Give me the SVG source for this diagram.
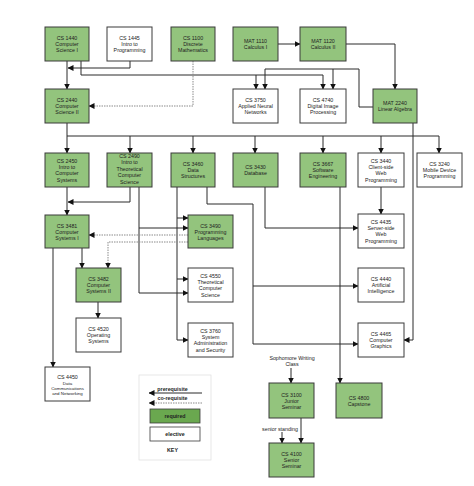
<svg xmlns="http://www.w3.org/2000/svg" width="474" height="486" viewBox="0 0 474 486">
<style>
.n rect{stroke:#3a3a3a;stroke-width:1}
.req rect{fill:#93c47d}
.ele rect{fill:#ffffff}
text{font-family:"Liberation Sans",Arial,sans-serif;font-size:5.3px;fill:#222;text-anchor:middle}
.c path{fill:none;stroke:#2b2b2b;stroke-width:1}
.c path.d{stroke:#8a8a8a;stroke-dasharray:1.5,1}
.sm{font-size:4.4px}
.b{font-weight:bold}
</style>
<defs>
<marker id="a" markerUnits="userSpaceOnUse" markerWidth="6" markerHeight="6" refX="5.5" refY="3" orient="auto"><path d="M0,0 L6,3 L0,6 z" fill="#111"/></marker>
</defs>
<rect width="474" height="486" fill="#fff"/>
<g class="c" id="connectors">
<path d="M67,61 V89" marker-end="url(#a)"/>
<path d="M130,61 V68 H68" marker-end="url(#a)"/>
<path d="M81,61 V75 H323 V89" marker-end="url(#a)"/>
<path d="M256,75 V89" marker-end="url(#a)"/>
<path d="M373,107 H359 V69 H265 V89" marker-end="url(#a)"/>
<path d="M333,69 V89" marker-end="url(#a)"/>
<path d="M278,44 H300" marker-end="url(#a)"/>
<path d="M346,44 H395 V89" marker-end="url(#a)"/>
<path class="d" d="M193,61 V106 H89" marker-end="url(#a)"/>
<path d="M67,123 V153" marker-end="url(#a)"/>
<path d="M67,136 H439 V153" marker-end="url(#a)"/>
<path d="M130,136 V153" marker-end="url(#a)"/>
<path d="M193,136 V153" marker-end="url(#a)"/>
<path d="M255,136 V153" marker-end="url(#a)"/>
<path d="M323,136 V153" marker-end="url(#a)"/>
<path d="M381,136 V153" marker-end="url(#a)"/>
<path d="M413,123 V340 H404" marker-end="url(#a)"/>
<path d="M67,187 V215" marker-end="url(#a)"/>
<path d="M130,187 V202 H68" marker-end="url(#a)"/>
<path d="M139,187 V293 H188" marker-end="url(#a)"/>
<path d="M139,228 H188" marker-end="url(#a)"/>
<path d="M177,187 V340 H188" marker-end="url(#a)"/>
<path d="M177,218 H188" marker-end="url(#a)"/>
<path d="M177,279 H188" marker-end="url(#a)"/>
<path d="M207,187 V204 H253 V344 H358" marker-end="url(#a)"/>
<path d="M253,286 H358" marker-end="url(#a)"/>
<path d="M265,187 V228 H358" marker-end="url(#a)"/>
<path d="M340,187 V383" marker-end="url(#a)"/>
<path d="M381,187 V214" marker-end="url(#a)"/>
<path class="d" d="M188,235 H89" marker-end="url(#a)"/>
<path class="d" d="M188,242 H108 V268" marker-end="url(#a)"/>
<path d="M82,248 V268" marker-end="url(#a)"/>
<path d="M53,248 V367" marker-end="url(#a)"/>
<path d="M98,302 V318" marker-end="url(#a)"/>
<path d="M291,368 V383" marker-end="url(#a)"/>
<path d="M282,432 V443" marker-end="url(#a)"/>
<path d="M301,418 V443" marker-end="url(#a)"/>
</g>
<g id="cs1440" class="n req"><rect x="45" y="27" width="44" height="34"/><text x="67" y="40">CS 1440</text><text x="67" y="46">Computer</text><text x="67" y="52">Science I</text></g>
<g id="cs1445" class="n ele"><rect x="107" y="27" width="45" height="34"/><text x="129.5" y="40">CS 1445</text><text x="129.5" y="46">Intro to</text><text x="129.5" y="52">Programming</text></g>
<g id="cs1100" class="n req"><rect x="171" y="27" width="44" height="34"/><text x="193" y="40">CS 1100</text><text x="193" y="46">Discrete</text><text x="193" y="52">Mathematics</text></g>
<g id="mat1110" class="n req"><rect x="233" y="27" width="45" height="34"/><text x="255.5" y="43">MAT 1110</text><text x="255.5" y="49">Calculus I</text></g>
<g id="mat1120" class="n req"><rect x="300" y="27" width="46" height="34"/><text x="323" y="43">MAT 1120</text><text x="323" y="49">Calculus II</text></g>
<g id="cs2440" class="n req"><rect x="45" y="89" width="44" height="34"/><text x="67" y="102">CS 2440</text><text x="67" y="108">Computer</text><text x="67" y="114">Science II</text></g>
<g id="cs3750" class="n ele"><rect x="233" y="89" width="45" height="34"/><text x="255.5" y="102">CS 3750</text><text x="255.5" y="108">Applied Neural</text><text x="255.5" y="114">Networks</text></g>
<g id="cs4740" class="n ele"><rect x="300" y="89" width="46" height="34"/><text x="323" y="102">CS 4740</text><text x="323" y="108">Digital Image</text><text x="323" y="114">Processing</text></g>
<g id="mat2240" class="n req"><rect x="373" y="89" width="44" height="34"/><text x="395" y="105">MAT 2240</text><text x="395" y="111">Linear Algebra</text></g>
<g id="cs2450" class="n req"><rect x="45" y="153" width="44" height="34"/><text x="67" y="162.7">CS 2450</text><text x="67" y="169">Intro to</text><text x="67" y="175.3">Computer</text><text x="67" y="181.6">Systems</text></g>
<g id="cs2490" class="n req"><rect x="107" y="153" width="45" height="34"/><text x="129.5" y="158">CS 2490</text><text x="129.5" y="164.4">Intro to</text><text x="129.5" y="170.8">Theoretical</text><text x="129.5" y="177.2">Computer</text><text x="129.5" y="183.6">Science</text></g>
<g id="cs3460" class="n req"><rect x="171" y="153" width="44" height="34"/><text x="193" y="166">CS 3460</text><text x="193" y="172">Data</text><text x="193" y="178">Structures</text></g>
<g id="cs3430" class="n req"><rect x="233" y="153" width="45" height="34"/><text x="255.5" y="169">CS 3430</text><text x="255.5" y="175">Database</text></g>
<g id="cs3667" class="n req"><rect x="300" y="153" width="46" height="34"/><text x="323" y="166">CS 3667</text><text x="323" y="172">Software</text><text x="323" y="178">Engineering</text></g>
<g id="cs3440" class="n ele"><rect x="358" y="153" width="46" height="34"/><text x="381" y="162.7">CS 3440</text><text x="381" y="169">Client-side</text><text x="381" y="175.3">Web</text><text x="381" y="181.6">Programming</text></g>
<g id="cs3240" class="n ele"><rect x="417" y="153" width="45" height="34"/><text x="439.5" y="166">CS 3240</text><text x="439.5" y="172">Mobile Device</text><text x="439.5" y="178">Programming</text></g>
<g id="cs3481" class="n req"><rect x="45" y="215" width="44" height="33"/><text x="67" y="227.5">CS 3481</text><text x="67" y="233.5">Computer</text><text x="67" y="239.5">Systems I</text></g>
<g id="cs3490" class="n req"><rect x="188" y="215" width="45" height="33"/><text x="210.5" y="227.5">CS 3490</text><text x="210.5" y="233.5">Programming</text><text x="210.5" y="239.5">Languages</text></g>
<g id="cs4435" class="n ele"><rect x="358" y="214" width="46" height="34"/><text x="381" y="223.7">CS 4435</text><text x="381" y="230">Server-side</text><text x="381" y="236.3">Web</text><text x="381" y="242.6">Programming</text></g>
<g id="cs3482" class="n req"><rect x="76" y="268" width="45" height="34"/><text x="98.5" y="281">CS 3482</text><text x="98.5" y="287">Computer</text><text x="98.5" y="293">Systems II</text></g>
<g id="cs4550" class="n ele"><rect x="188" y="268" width="45" height="34"/><text x="210.5" y="277.7">CS 4550</text><text x="210.5" y="284">Theoretical</text><text x="210.5" y="290.3">Computer</text><text x="210.5" y="296.6">Science</text></g>
<g id="cs4440" class="n ele"><rect x="358" y="268" width="46" height="34"/><text x="381" y="281">CS 4440</text><text x="381" y="287">Artificial</text><text x="381" y="293">Intelligence</text></g>
<g id="cs4520" class="n ele"><rect x="76" y="318" width="45" height="34"/><text x="98.5" y="331">CS 4520</text><text x="98.5" y="337">Operating</text><text x="98.5" y="343">Systems</text></g>
<g id="cs3760" class="n ele"><rect x="188" y="323" width="45" height="34"/><text x="210.5" y="332.7">CS 3760</text><text x="210.5" y="339">System</text><text x="210.5" y="345.3">Administration</text><text x="210.5" y="351.6">and Security</text></g>
<g id="cs4465" class="n ele"><rect x="358" y="323" width="46" height="34"/><text x="381" y="336">CS 4465</text><text x="381" y="342">Computer</text><text x="381" y="348">Graphics</text></g>
<g id="cs4450" class="n ele"><rect x="45" y="367" width="45" height="34"/><text x="67.5" y="378.5">CS 4450</text><text class="sm" x="67.5" y="384.5">Data</text><text class="sm" x="67.5" y="389.5">Communications</text><text class="sm" x="67.5" y="394.5">and Networking</text></g>
<g id="sophomore"><text x="292" y="360">Sophomore Writing</text><text x="292" y="366">Class</text></g>
<g id="cs3100" class="n req"><rect x="269" y="383" width="45" height="35"/><text x="291.5" y="396.5">CS 3100</text><text x="291.5" y="402.5">Junior</text><text x="291.5" y="408.5">Seminar</text></g>
<g id="cs4800" class="n req"><rect x="336" y="383" width="46" height="35"/><text x="359" y="399.5">CS 4800</text><text x="359" y="405.5">Capstone</text></g>
<g id="senior"><text x="280" y="431">senior standing</text></g>
<g id="cs4100" class="n req"><rect x="269" y="443" width="45" height="34"/><text x="291.5" y="456">CS 4100</text><text x="291.5" y="462">Senior</text><text x="291.5" y="468">Seminar</text></g>
<g id="key">
<rect x="139" y="375" width="72" height="85" fill="#fff" stroke="#e2e2e2" stroke-width="0.8"/>
<g class="c"><path d="M202,393 H149" marker-end="url(#a)"/><path class="d" d="M202,403 H149" stroke="#555" marker-end="url(#a)"/></g>
<text class="b" x="172.5" y="390.5">prerequisite</text>
<text class="b" x="172.5" y="400">co-requisite</text>
<rect x="150" y="409" width="50" height="14" fill="#6aa84f" stroke="#3a3a3a" stroke-width="0.8"/>
<text class="b" x="175" y="418">required</text>
<rect x="150" y="427" width="50" height="14" fill="#fff" stroke="#3a3a3a" stroke-width="0.8"/>
<text class="b" x="175" y="436">elective</text>
<text class="b" x="172.5" y="452">KEY</text>
</g>
</svg>
